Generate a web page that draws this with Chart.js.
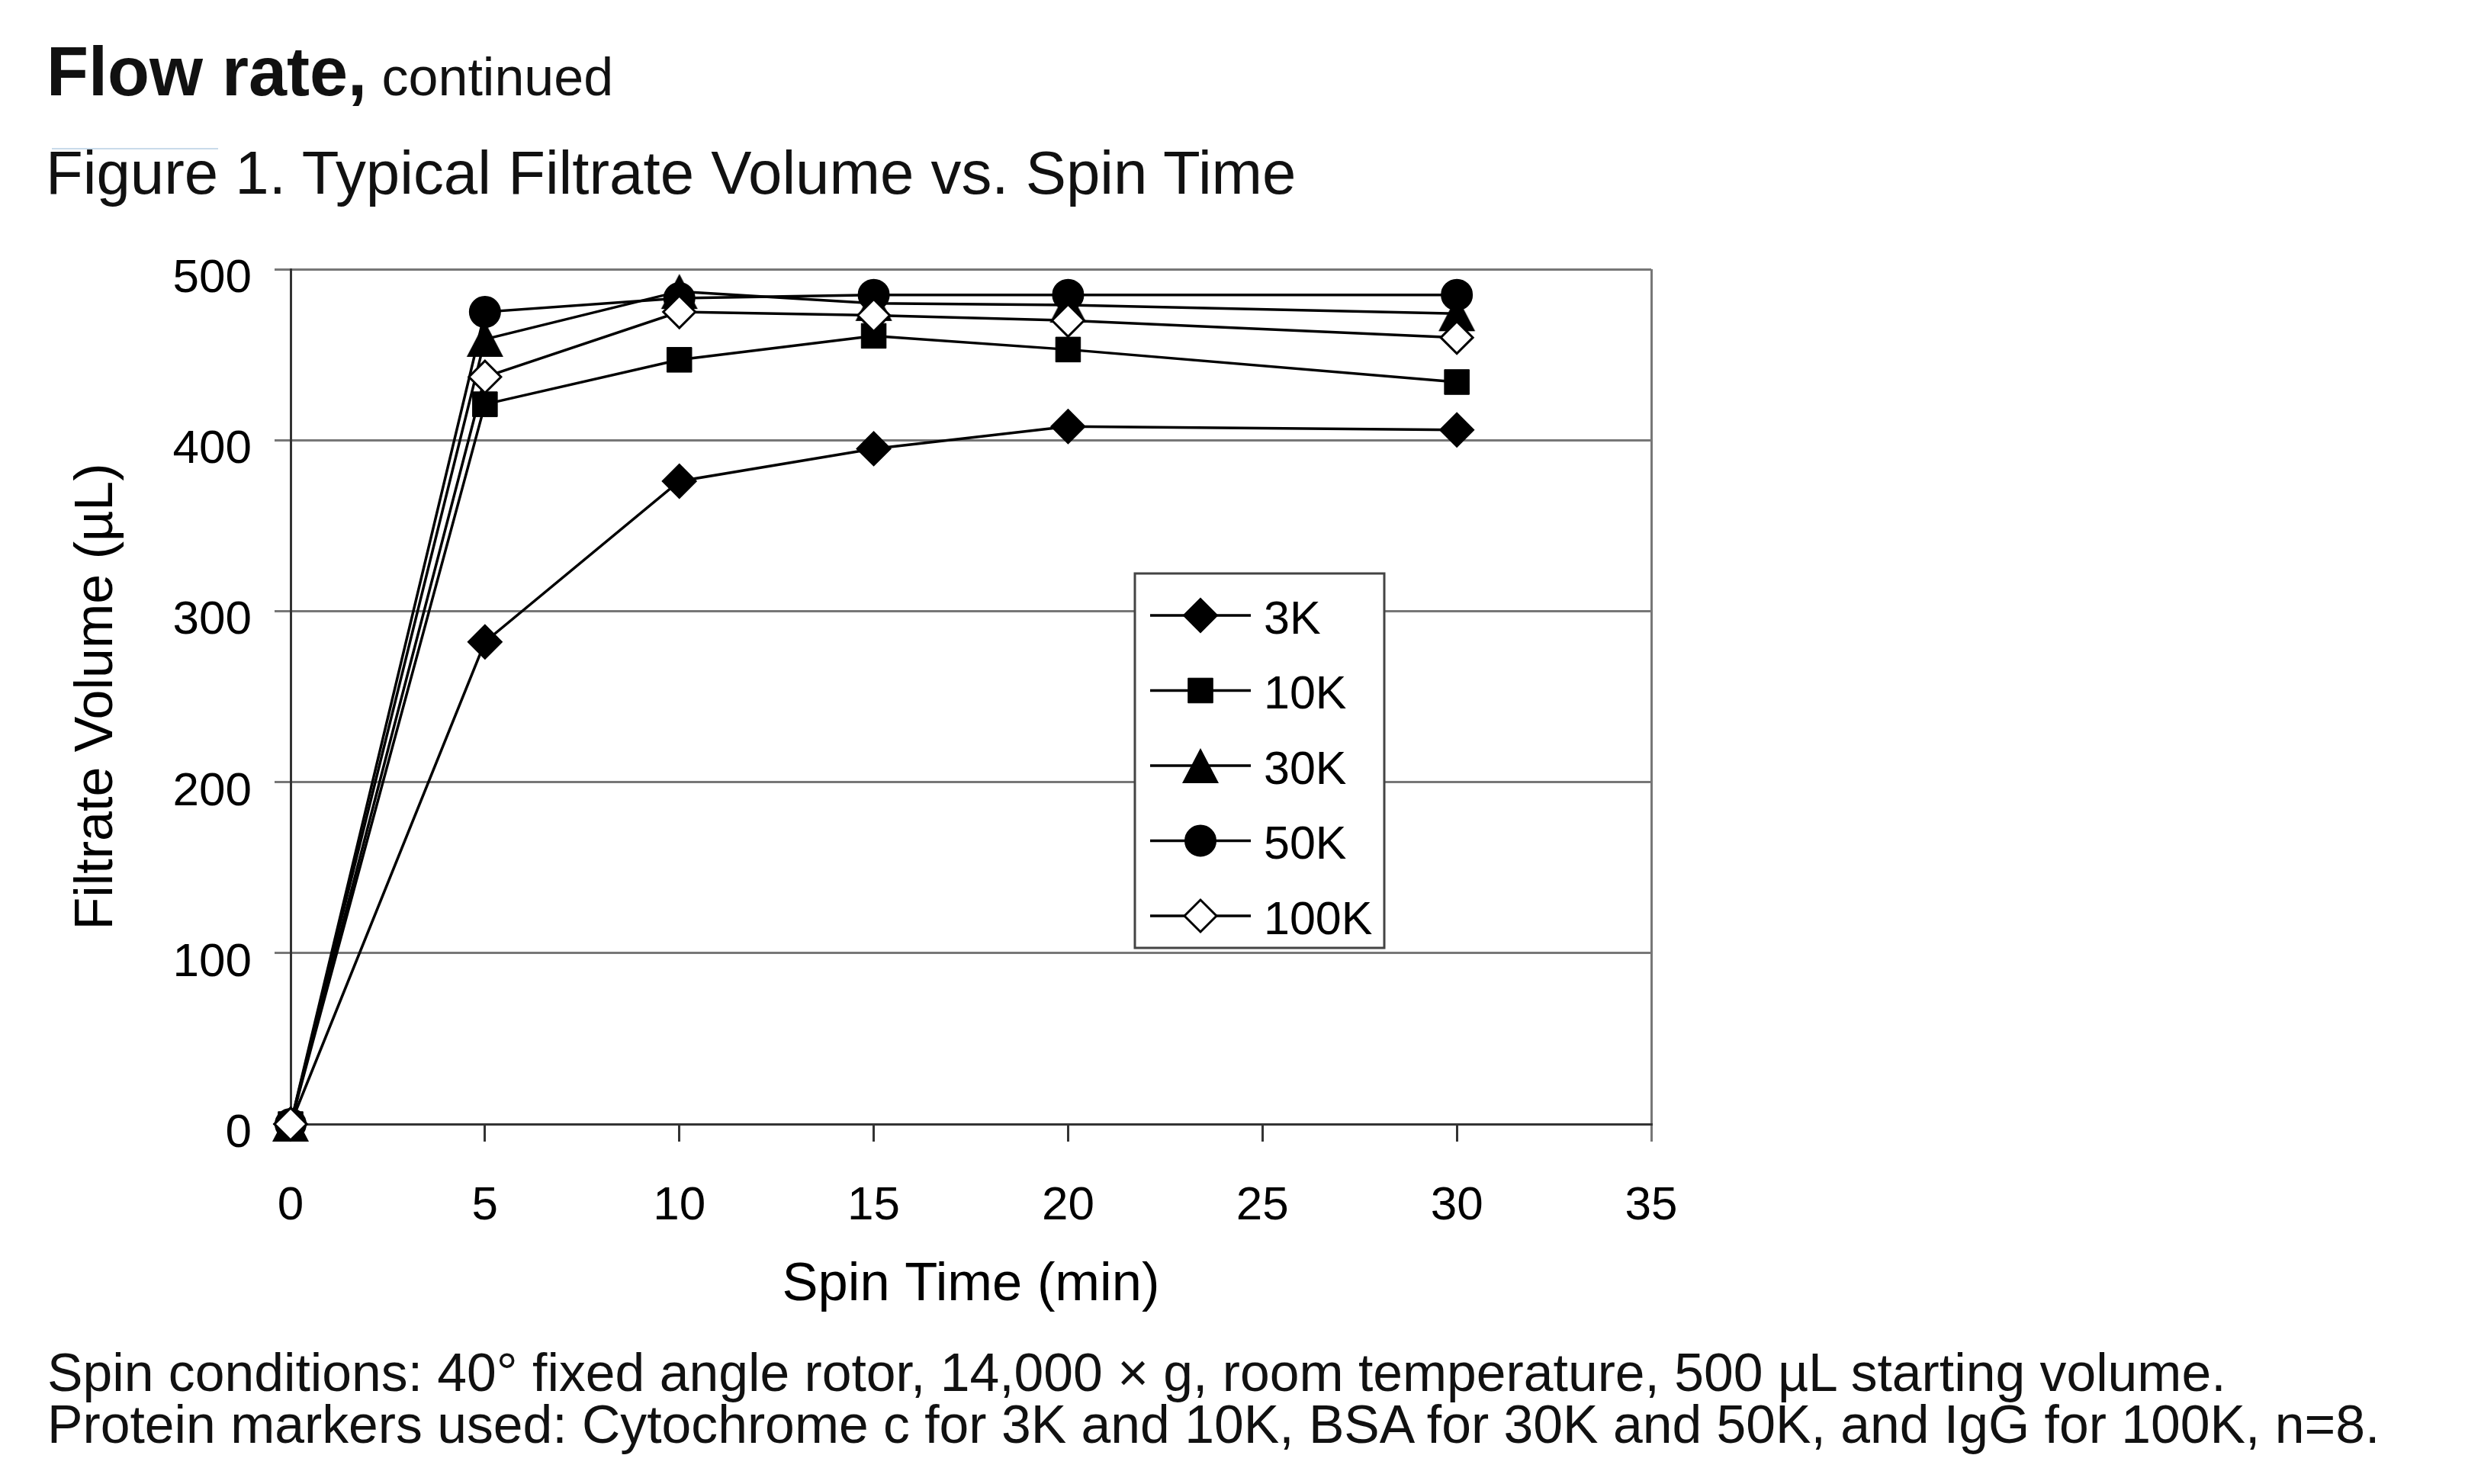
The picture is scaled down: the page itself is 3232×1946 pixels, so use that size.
<!DOCTYPE html>
<html>
<head>
<meta charset="utf-8">
<script src="https://cdn.jsdelivr.net/npm/chart.js@4.4.1/dist/chart.umd.min.js"></script>
<style>
  html, body { margin: 0; padding: 0; background: #fff; }
  #wrap { position: relative; width: 3232px; height: 1946px; overflow: hidden; background: #fff; }
  #c { position: absolute; left: 0; top: 0; }
  .txt { position: absolute; white-space: nowrap; color: #111; font-family: "Liberation Sans", Arial, sans-serif; line-height: 1; }
</style>
</head>
<body>
<div id="wrap">
  <canvas id="c" width="3232" height="1946" style="width:3232px;height:1946px"></canvas>
  <div class="txt" style="left:61px; top:49px; font-size:90px;"><b>Flow rate,</b><span style="font-size:70px;"> continued</span></div>
  <div style="position:absolute; left:68px; top:194px; width:218px; height:2px; background:#c9dbea;"></div>
  <div class="txt" style="left:60px; top:187px; font-size:79.8px;">Figure 1. Typical Filtrate Volume vs. Spin Time</div>
  <div class="txt" style="left:62px; top:1766px; font-size:69.7px;">Spin conditions: 40° fixed angle rotor, 14,000 × g, room temperature, 500 µL starting volume.</div>
  <div class="txt" style="left:62px; top:1834px; font-size:69.7px;">Protein markers used: Cytochrome c for 3K and 10K, BSA for 30K and 50K, and IgG for 100K, n=8.</div>
</div>
<script>
// ---- data ----
const spinTime = [0, 5, 10, 15, 20, 30];
const seriesNames = ['3K', '10K', '30K', '50K', '100K'];
const vol3K   = [0, 282, 376, 395, 408, 406];
const vol10K  = [0, 421, 447, 461, 453, 434];
const vol30K  = [0, 459, 487, 480, 479, 474];
const vol50K  = [0, 475, 483, 485, 485, 485];
const vol100K = [0, 437, 475, 473, 470, 460];
const xTickValues = [0, 5, 10, 15, 20, 25, 30, 35];
const yTickValues = [0, 100, 200, 300, 400, 500];

const FONT = '"Liberation Sans", Arial, sans-serif';

// triangle marker image (centered on its bounding box, like the original)
function makeTriangle() {
  const cv = document.createElement('canvas');
  cv.width = 50; cv.height = 50;
  const g = cv.getContext('2d');
  g.fillStyle = '#000';
  g.beginPath();
  g.moveTo(25, 2);
  g.lineTo(49, 48);
  g.lineTo(1, 48);
  g.closePath();
  g.fill();
  return cv;
}
const triImg = makeTriangle();

const styles = [
  { pointStyle: 'rectRot', pointRadius: 22, pointBorderWidth: 2, pointBackgroundColor: '#000' },
  { pointStyle: 'rect', pointRadius: 23, pointBorderWidth: 1, pointBackgroundColor: '#000' },
  { pointStyle: triImg, pointRadius: 25, pointBorderWidth: 0, pointBackgroundColor: '#000' },
  { pointStyle: 'circle', pointRadius: 20, pointBorderWidth: 2, pointBackgroundColor: '#000' },
  { pointStyle: 'rectRot', pointRadius: 21, pointBorderWidth: 3, pointBackgroundColor: '#fff' }
];
const seriesValues = [vol3K, vol10K, vol30K, vol50K, vol100K];

const datasets = seriesValues.map((vals, i) => Object.assign({
  label: seriesNames[i],
  data: spinTime.map((t, j) => ({ x: t, y: vals[j] })),
  borderColor: '#000',
  borderWidth: 3.5,
  pointBorderColor: '#000',
  pointHoverRadius: styles[i].pointRadius,
  tension: 0,
  clip: false,
  order: 5 - i
}, styles[i]));

function drawMarker(ctx, st, x, y) {
  ctx.save();
  ctx.fillStyle = st.pointBackgroundColor;
  ctx.strokeStyle = '#000';
  ctx.lineWidth = st.pointBorderWidth;
  const r = st.pointRadius;
  if (typeof st.pointStyle !== 'string') {
    ctx.drawImage(st.pointStyle, x - st.pointStyle.width / 2, y - st.pointStyle.height / 2);
    ctx.restore();
    return;
  }
  ctx.beginPath();
  if (st.pointStyle === 'rectRot') {
    ctx.moveTo(x - r, y); ctx.lineTo(x, y - r); ctx.lineTo(x + r, y); ctx.lineTo(x, y + r); ctx.closePath();
  } else if (st.pointStyle === 'rect') {
    const s = Math.SQRT1_2 * r;
    ctx.rect(x - s, y - s, 2 * s, 2 * s);
  } else if (st.pointStyle === 'circle') {
    ctx.arc(x, y, r, 0, Math.PI * 2);
  }
  ctx.fill();
  if (st.pointBorderWidth > 0) ctx.stroke();
  ctx.restore();
}

const legendBoxPlugin = {
  id: 'legendBox',
  afterDatasetsDraw(chart) {
    const ctx = chart.ctx;
    const box = { left: 1488, top: 752, right: 1815, bottom: 1243 };
    ctx.save();
    ctx.fillStyle = '#fff';
    ctx.fillRect(box.left, box.top, box.right - box.left, box.bottom - box.top);
    ctx.strokeStyle = '#444';
    ctx.lineWidth = 3;
    ctx.strokeRect(box.left, box.top, box.right - box.left, box.bottom - box.top);
    const rowY0 = 807, rowStep = 98.5;
    seriesNames.forEach((name, i) => {
      const y = rowY0 + i * rowStep;
      ctx.strokeStyle = '#000';
      ctx.lineWidth = 3.5;
      ctx.beginPath();
      ctx.moveTo(1508, y); ctx.lineTo(1640, y);
      ctx.stroke();
      drawMarker(ctx, styles[i], 1574, y);
      ctx.fillStyle = '#000';
      ctx.font = '61px ' + FONT;
      ctx.textAlign = 'left';
      ctx.textBaseline = 'middle';
      ctx.fillText(name, 1657, y + 7);
    });
    ctx.restore();
  }
};

new Chart(document.getElementById('c'), {
  type: 'line',
  data: { datasets },
  plugins: [legendBoxPlugin],
  options: {
    responsive: false,
    animation: false,
    devicePixelRatio: 1,
    layout: { padding: { left: 0, top: 353, right: 1067, bottom: 172 } },
    plugins: { legend: { display: false }, tooltip: { enabled: false }, title: { display: false } },
    scales: {
      x: {
        type: 'linear',
        min: 0, max: 35,
        afterFit(scale) { scale.height = 300; },
        afterBuildTicks(scale) { scale.ticks = xTickValues.map(v => ({ value: v })); },
        ticks: {
          color: '#000',
          font: { family: FONT, size: 62 },
          padding: 48,
          maxRotation: 0,
          autoSkip: false,
          callback: (v) => String(v)
        },
        grid: {
          drawOnChartArea: true,
          color: (c) => (c.tick && c.tick.value === 35) ? '#777' : 'rgba(0,0,0,0)',
          lineWidth: 3,
          tickColor: (c) => (c.tick && c.tick.value === 35) ? '#777' : '#333',
          tickWidth: 3,
          tickLength: 23
        },
        border: { display: true, color: '#333', width: 3 },
        title: {
          display: true,
          text: 'Spin Time (min)',
          color: '#000',
          font: { family: FONT, size: 70.5 },
          padding: { top: 0, bottom: 46 }
        }
      },
      y: {
        type: 'linear',
        min: 0, max: 500,
        afterFit(scale) { scale.width = 381; },
        afterBuildTicks(scale) { scale.ticks = yTickValues.map(v => ({ value: v })); },
        ticks: {
          color: '#000',
          font: { family: FONT, size: 62 },
          padding: 30,
          labelOffset: 13,
          callback: (v) => String(v)
        },
        grid: {
          color: '#777',
          lineWidth: 3,
          tickColor: '#777',
          tickWidth: 3,
          tickLength: 21
        },
        border: { display: true, color: '#333', width: 3 },
        title: {
          display: true,
          text: 'Filtrate Volume (µL)',
          color: '#000',
          font: { family: FONT, size: 70 },
          padding: { top: 86, bottom: 0 }
        }
      }
    }
  }
});
</script>
</body>
</html>
